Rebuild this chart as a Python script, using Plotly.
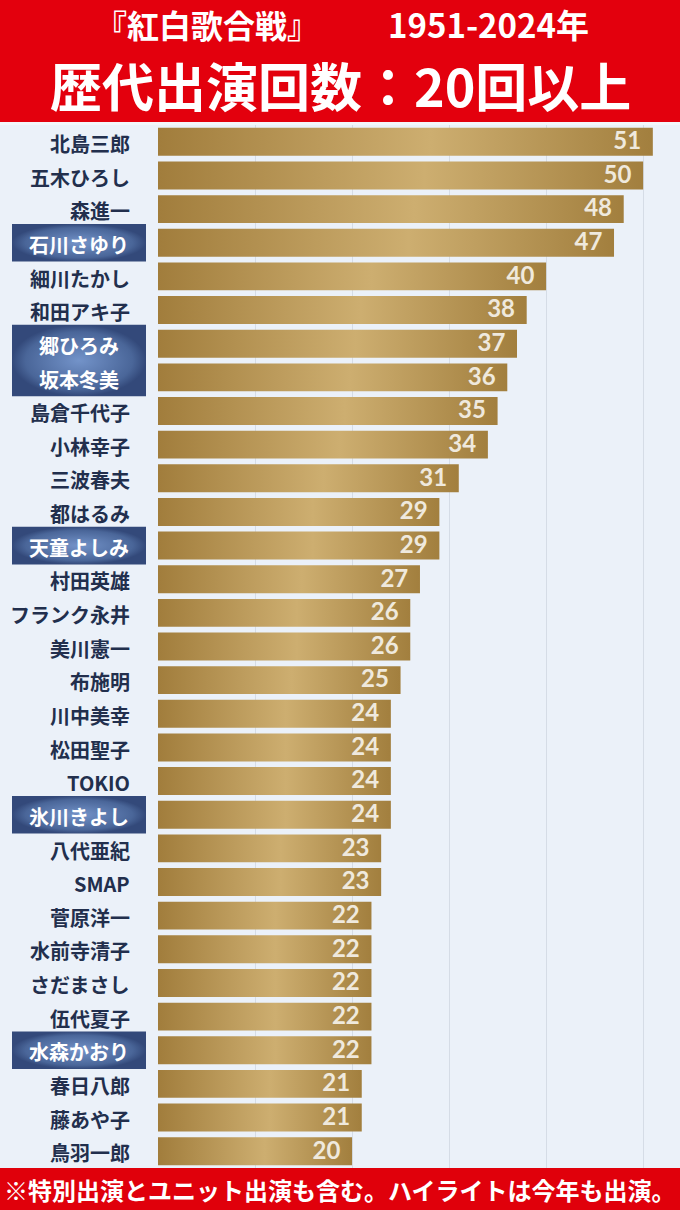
import plotly.graph_objects as go

# data
names = ["北島三郎", "五木ひろし", "森進一", "石川さゆり", "細川たかし", "和田アキ子",
         "郷ひろみ", "坂本冬美", "島倉千代子", "小林幸子", "三波春夫", "都はるみ",
         "天童よしみ", "村田英雄", "フランク永井", "美川憲一", "布施明", "川中美幸",
         "松田聖子", "TOKIO", "氷川きよし", "八代亜紀", "SMAP", "菅原洋一",
         "水前寺清子", "さだまさし", "伍代夏子", "水森かおり", "春日八郎", "藤あや子",
         "鳥羽一郎"]
counts = [51, 50, 48, 47, 40, 38, 37, 36, 35, 34, 31, 29, 29, 27, 26, 26, 25,
          24, 24, 24, 24, 23, 23, 22, 22, 22, 22, 22, 21, 21, 20]
# highlighted = also appearing this year
highlight = ["石川さゆり", "郷ひろみ", "坂本冬美", "天童よしみ", "氷川きよし", "水森かおり"]

title1 = "『紅白歌合戦』"
title_years = "1951-2024年"
title2 = "歴代出演回数：20回以上"
footnote = "※特別出演とユニット出演も含む。ハイライトは今年も出演。"

JP = "Noto Sans CJK JP"
NAVY = "#222f4d"
H = 1210
half = 0.415  # half bar thickness in row units

fig = go.Figure()

# bars with a horizontal gold gradient (one filled shape per bar)
for i, v in enumerate(counts):
    fig.add_trace(go.Scatter(
        x=[0, v, v, 0, 0], y=[i - half, i - half, i + half, i + half, i - half],
        mode="lines", fill="toself", line=dict(width=0),
        fillgradient=dict(type="horizontal",
                          colorscale=[[0, "#a17d3c"], [0.55, "#cdae70"], [1, "#a27f3e"]]),
        hoverinfo="skip", showlegend=False, xaxis="x", yaxis="y"))

# value labels
fig.add_trace(go.Scatter(
    x=counts, y=[i + 0.04 for i in range(len(counts))], mode="text",
    text=[str(v) + "  " for v in counts], textposition="middle left",
    textfont=dict(family="Lato", size=24, color="#efe9dd", weight="bold"),
    hoverinfo="skip", showlegend=False, cliponaxis=False, xaxis="x", yaxis="y"))

# highlight boxes on the label axis (x2 in pixel-like units 0..158)
idx = [names.index(n) for n in highlight]
groups = []
for k in idx:
    if groups and groups[-1][-1] == k - 1:
        groups[-1].append(k)
    else:
        groups.append([k])
for g in groups:
    y0, y1 = g[0] - 0.56, g[-1] + 0.56
    fig.add_trace(go.Scatter(
        x=[12, 146, 146, 12, 12], y=[y0, y0, y1, y1, y0],
        mode="lines", fill="toself", line=dict(width=0),
        fillgradient=dict(type="radial",
                          colorscale=[[0, "#7393c9"], [0.8, "#4a6699"], [1, "#33497a"]]),
        hoverinfo="skip", showlegend=False, xaxis="x2", yaxis="y"))

# name labels
for i, n in enumerate(names):
    if n in highlight:
        fig.add_annotation(x=79, y=i + 0.05, xref="x2", yref="y", text=n,
                           showarrow=False, xanchor="center", yanchor="middle",
                           font=dict(family=JP, size=20, color="white", weight="bold"))
    else:
        fig.add_annotation(x=132, y=i + 0.05, xref="x2", yref="y", text=n,
                           showarrow=False, xanchor="right", yanchor="middle",
                           font=dict(family=JP, size=20, color=NAVY, weight="bold"))

# header and footer bands
fig.add_shape(type="rect", xref="paper", yref="paper", x0=0, x1=1,
              y0=1 - 122 / H, y1=1, fillcolor="#e3000d", line_width=0, layer="below")
fig.add_shape(type="rect", xref="paper", yref="paper", x0=0, x1=1,
              y0=0, y1=42 / H, fillcolor="#e0000b", line_width=0, layer="below")

fig.add_annotation(x=207 / 680, y=1 - 24 / H, xref="paper", yref="paper",
                   text=title1, showarrow=False, xanchor="center", yanchor="middle",
                   font=dict(family=JP, size=32, color="white", weight="bold"))
fig.add_annotation(x=488 / 680, y=1 - 24 / H, xref="paper", yref="paper",
                   text=title_years, showarrow=False, xanchor="center", yanchor="middle",
                   font=dict(family=JP, size=33, color="white", weight="bold"))
fig.add_annotation(x=0.5, y=1 - 84 / H, xref="paper", yref="paper",
                   text=title2, showarrow=False, xanchor="center", yanchor="middle",
                   font=dict(family=JP, size=52, color="white", weight="bold"))
fig.add_annotation(x=0.5, y=21 / H, xref="paper", yref="paper",
                   text=footnote, showarrow=False, xanchor="center", yanchor="middle",
                   font=dict(family=JP, size=24, color="white", weight="bold"))

split = 158 / 680
fig.update_layout(
    width=680, height=H,
    margin=dict(l=0, r=0, t=0, b=0),
    paper_bgcolor="#f3f6fa", plot_bgcolor="#ebf1f9",
    showlegend=False,
    xaxis=dict(domain=[split, 1], range=[0, 53.8], anchor="y",
               tickvals=[10, 20, 30, 40, 50], showticklabels=False,
               showgrid=True, gridcolor="#d5dce6", gridwidth=1, zeroline=False,
               fixedrange=True),
    xaxis2=dict(domain=[0, split], range=[0, 158], anchor="y",
                showgrid=False, showticklabels=False, zeroline=False, fixedrange=True),
    yaxis=dict(domain=[42 / H, 1 - 125 / H], range=[30.5, -0.5],
               showgrid=False, showticklabels=False, zeroline=False, fixedrange=True),
)

fig.write_html("out.html", config={"displayModeBar": False},
               post_script="document.body.style.margin='0';")
